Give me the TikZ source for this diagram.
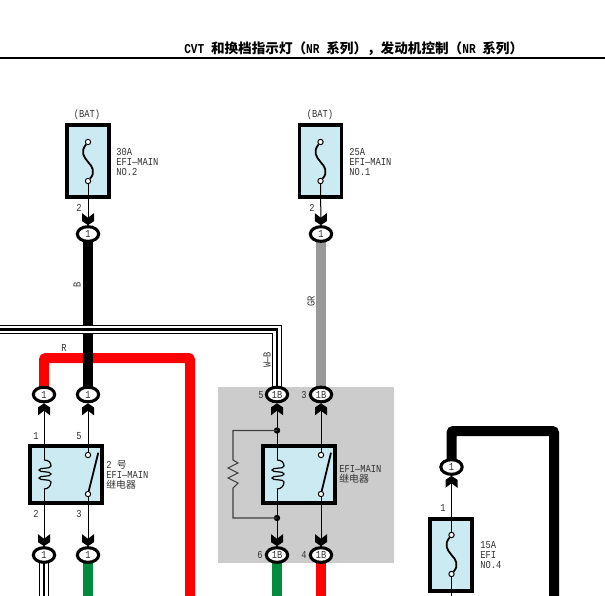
\documentclass[tikz,border=0pt]{standalone}
\usepackage{fontspec}
\setmainfont[FakeStretch=0.82]{Liberation Mono}
\newfontfamily\cjk{Noto Sans CJK SC}
\usetikzlibrary{shapes.geometric,arrows.meta,backgrounds}
\pgfdeclarearrow{
  name=Chev,
  setup code={\pgfarrowssettipend{0pt}\pgfarrowssetlineend{-3pt}\pgfarrowssetbackend{-9pt}\pgfarrowssetvisualbackend{-5pt}},
  drawing code={
    \pgfpathmoveto{\pgfqpoint{0pt}{0pt}}
    \pgfpathlineto{\pgfqpoint{-3pt}{4.5pt}}
    \pgfpathlineto{\pgfqpoint{-9pt}{4.5pt}}
    \pgfpathlineto{\pgfqpoint{-5.5pt}{0pt}}
    \pgfpathlineto{\pgfqpoint{-9pt}{-4.5pt}}
    \pgfpathlineto{\pgfqpoint{-3pt}{-4.5pt}}
    \pgfpathclose\pgfusepathqfill
  }
}
\definecolor{boxblue}{HTML}{CCEAF2}
\definecolor{wgreen}{HTML}{008C3C}
\definecolor{wgray}{HTML}{999999}
\definecolor{txt}{HTML}{333333}
\tikzset{
  x=0.75pt,y=-0.75pt,
  lab/.style={font=\fontsize{8}{7.5}\selectfont,text=txt,inner sep=0pt,align=left},
  comp/.style={draw=black,fill=boxblue,line width=2.8pt,inner sep=0pt},
  fusebox/.style={comp,minimum width=31.5pt,minimum height=54pt},
  relaybox/.style={comp,minimum width=54pt,minimum height=43pt},
  conn/.style={ellipse,draw=black,fill=white,line width=2.3pt,minimum width=16pt,minimum height=11pt,inner sep=0pt,font=\fontsize{8}{7}\selectfont,text=txt},
  term/.style={circle,draw=black,fill=white,line width=0.75pt,minimum size=4pt,inner sep=0pt},
  jdot/.style={circle,fill=black,minimum size=4.8pt,inner sep=0pt},
  thinw/.style={draw=black,line width=0.75pt},
  tipw/.style={thinw,-Chev},
  thickw/.style={line width=7.5pt,rounded corners=1.5pt},
  wbwire/.style={preaction={draw=black,line width=7.2pt},preaction={draw=white,line width=5.3pt},draw=black,line width=2pt},
  swline/.style={draw=black,line width=1.35pt},
  resw/.style={draw=black!75,line width=0.8pt},
}
\newcommand{\coilpath}[2]{%
  \draw[thinw,line width=0.9pt] (#1,#2) .. controls (#1+4,#2) and (#1+7,#2+2) .. (#1+7,#2+6)
   .. controls (#1+7,#2+9.5) and (#1-5,#2+7) .. (#1-5,#2+10)
   .. controls (#1-5,#2+13) and (#1+7,#2+10.5) .. (#1+7,#2+14)
   .. controls (#1+7,#2+17.5) and (#1-5,#2+15) .. (#1-5,#2+18)
   .. controls (#1-5,#2+21) and (#1+7,#2+18.5) .. (#1+7,#2+22)
   .. controls (#1+7,#2+26) and (#1+4,#2+29) .. (#1,#2+29);}
\newcommand{\cjksmall}{\cjk\fontsize{7.4}{7.5}\selectfont}
\begin{document}
\begin{tikzpicture}
\useasboundingbox (0,0) rectangle (605,595);
% title
\newcommand{\tc}[1]{{\cjk #1}}
\node[inner sep=0pt,anchor=west,font=\fontsize{10.2}{11}\selectfont\bfseries] (title) at (184,49)
  {CVT \tc{和换档指示灯（}NR \tc{系列），发动机控制（}NR \tc{系列）}};
\coordinate (ruleL) at (0,58); \coordinate (ruleR) at (605,58);
\draw[line width=1.6pt] (ruleL) -- (ruleR);

% components
\node[fusebox] (fA) at (87.7,161) {};
\node[fusebox] (fB) at (320.5,161) {};
\node[fusebox] (fC) at (451,555) {};
\node[relaybox] (rA) at (66,474.5) {};
\node[relaybox] (rB) at (299,474.5) {};

% connectors
\node[conn] (cA) at (88,234) {1};
\node[conn] (cB) at (321,234) {1};
\node[conn] (c1) at (44,394.5) {1};
\node[conn] (c2) at (88,394.5) {1};
\node[conn] (c3) at (44,555) {1};
\node[conn] (c4) at (88,555) {1};
\node[conn] (c5) at (277,394.5) {1B};
\node[conn] (c6) at (321,394.5) {1B};
\node[conn] (c7) at (277,555) {1B};
\node[conn] (c8) at (321,555) {1B};
\node[conn] (c9) at (451.5,467) {1};

% thick wires
\coordinate (bTurn) at (190,358);
\coordinate (redEnd) at (190,596);
\coordinate (wbL) at (-2,329.5);
\coordinate (wbC) at (277,329.5);
\coordinate (wbEnd) at (44,596);
\coordinate (gEndA) at (88,596);
\coordinate (gEndB) at (277,596);
\coordinate (rEndB) at (321,596);
\coordinate (bTurnC) at (554,431);
\coordinate (bEndC) at (554,596);
\begin{scope}[on background layer]
\fill[black!20] (218,387) rectangle (394,563);
\draw[thickw,red] (c1.center) |- (bTurn) -- (redEnd);
\draw[thickw,black] (cA.center) -- (c2.center);
\draw[thickw,wgray] (cB.center) -- (c6.center);
\draw[thickw,wgreen] (c4.center) -- (gEndA);
\draw[thickw,wgreen] (c7.center) -- (gEndB);
\draw[thickw,red] (c8.center) -- (rEndB);
\draw[thickw,black] (c9.center) |- (bTurnC) -- (bEndC);
\draw[wbwire] (wbL) -- (wbC) -- (c5.center);
\draw[wbwire] (c3.center) -- (wbEnd);
\end{scope}

% fuses
\foreach \n/\X/\Y in {A/88/142,B/320.5/142,C/451.5/535}{
  \node[term] (t\n a) at (\X,\Y) {};
  \node[term] (t\n b) at (\X,\Y+39) {};
  \draw[swline] (t\n a) .. controls (\X-8,\Y+10) and (\X-4,\Y+15) .. (\X,\Y+20)
     .. controls (\X+4,\Y+24) and (\X+8,\Y+30) .. (t\n b);
}
\draw[tipw] (tAb) -- (cA);
\draw[tipw] (tBb) -- (cB);
\coordinate (fCend) at (451.5,596);
\draw[tipw] (tCa) -- (c9);
\draw[thinw] (tCb) -- (fCend);

% relay 2
\coordinate (rAt) at (44,460); \coordinate (rAb) at (44,489);
\coilpath{44}{460}
\draw[tipw] (rAt) -- (c1);
\draw[tipw] (rAb) -- (c3);
\node[term] (sAa) at (88,455) {};
\node[term] (sAb) at (88,494) {};
\coordinate (sAe) at (98.3,452.7);
\draw[swline] (sAb) -- (sAe);
\draw[tipw] (sAa) -- (c2);
\draw[tipw] (sAb) -- (c4);

% EFI-MAIN relay
\coordinate (rBt) at (277,460); \coordinate (rBb) at (277,489);
\coilpath{277}{460}
\draw[tipw] (rBt) -- (c5);
\draw[tipw] (rBb) -- (c7);
\node[term] (sBa) at (321,455) {};
\node[term] (sBb) at (321,494) {};
\coordinate (sBe) at (331,452.7);
\draw[swline] (sBb) -- (sBe);
\draw[tipw] (sBa) -- (c6);
\draw[tipw] (sBb) -- (c8);
\node[jdot] (jT) at (277,430.5) {};
\node[jdot] (jB) at (277,518) {};
\draw[resw] (jT.center) -- (233,430.5) -- (233,460) -- (238,463) -- (228,468) -- (238,473) -- (228,478) -- (238,483) -- (233,488) -- (233,518) -- (jB.center);

% labels
\node[lab] (l1) at (87,115) {(BAT)};
\node[lab] (l2) at (320,115) {(BAT)};
\node[lab,anchor=west] (l3) at (116,162) {30A\\EFI—MAIN\\NO.2};
\node[lab,anchor=west] (l4) at (349,162) {25A\\EFI—MAIN\\NO.1};
\node[lab,anchor=west] (l5) at (480,555) {15A\\EFI\\NO.4};
\node[lab] (l6) at (79,208) {2};
\node[lab] (l7) at (312,208) {2};
\node[lab,rotate=90] (l8) at (77,285) {B};
\node[lab,rotate=90] (l9) at (311,301) {GR};
\node[lab] (l10) at (64,348) {R};
\node[lab,rotate=90] (l11) at (267,360) {W—B};
\node[lab] (l12) at (36,436) {1};
\node[lab] (l13) at (79,436) {5};
\node[lab] (l14) at (36,514) {2};
\node[lab] (l15) at (79,514) {3};
\node[lab,anchor=west] (l16) at (106,475) {2 {\cjksmall 号}\\EFI—MAIN\\{\cjksmall 继电器}};
\node[lab,anchor=west] (l17) at (339,474.5) {EFI—MAIN\\{\cjksmall 继电器}};
\node[lab] (l18) at (261,395) {5};
\node[lab] (l19) at (304,395) {3};
\node[lab] (l20) at (260,555) {6};
\node[lab] (l21) at (304,555) {4};
\node[lab] (l22) at (443,508) {1};
\end{tikzpicture}
\end{document}
